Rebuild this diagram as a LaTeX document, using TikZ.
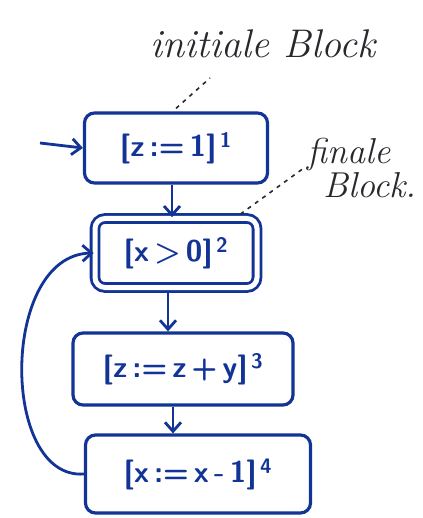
\documentclass[tikz,border=0pt]{standalone}
\usetikzlibrary{arrows.meta}
\definecolor{ink}{RGB}{18,52,150}
\definecolor{pencil}{RGB}{40,40,45}
\newcommand{\gp}{\hspace{5pt}}
\tikzset{
  blk/.style={draw=ink, line width=3.2pt, rounded corners=10pt, text=ink,
    font=\fontsize{30}{32}\selectfont\sffamily\bfseries, inner sep=0pt},
  flow/.style={draw=ink, line width=2.8pt, -{Straight Barb[length=9pt,width=16pt,line width=2.8pt]}},
  leader/.style={draw=pencil, line width=1.6pt, dash pattern=on 4pt off 5pt},
  note/.style={text=pencil, font=\fontsize{40}{40}\selectfont\itshape, align=center}
}
\begin{document}
\begin{tikzpicture}[x=1pt,y=-1pt]
\useasboundingbox[fill=white] (0,0) rectangle (422,518);
% blocks
\node[blk, minimum width=183pt, minimum height=70pt] (b1) at (176,148) {[z\gp:=\gp1]\textsuperscript{\,1}};
\node[blk, minimum width=162pt, minimum height=69pt, line width=2.8pt, double=white, double distance=5pt] (b2) at (176,253) {[x\gp>\gp0]\textsuperscript{\,2}};
\node[blk, minimum width=220pt, minimum height=72pt] (b3) at (183,369) {[z\gp:=\gp z\gp+\gp y]\textsuperscript{\,3}};
\node[blk, minimum width=225pt, minimum height=78pt] (b4) at (198,474) {[x\gp:=\gp x\gp-\gp1]\textsuperscript{\,4}};
% notes
\node[note] (ini) at (263,44) {initiale Block};
\node[note, font=\fontsize{36}{36}\selectfont\itshape, align=left] (fin) at (362,168) {finale\\[-2pt]\hspace*{16pt}Block.};
\coordinate (start) at (40,143);
% connectors
\draw[flow] (start) -- (b1.west);
\draw[flow] (b1.south) ++(-4,0) coordinate (a1) -- (a1 |- b2.north);
\draw[flow] (b2.south) ++(-8,3) coordinate (a2) -- (a2 |- b3.north);
\draw[flow] (b3.south) ++(-10,0) coordinate (a3) -- (a3 |- b4.north);
\draw[flow] (b4.west) .. controls (0,480) and (0,255) .. (b2.west);
% leaders
\draw[leader] (b1.north) ++(0,-3) coordinate (l1) -- (210,78);
\draw[leader] (b2.north east) ++(-18,-3) coordinate (l2) -- (fin.west);
\end{tikzpicture}
\end{document}
